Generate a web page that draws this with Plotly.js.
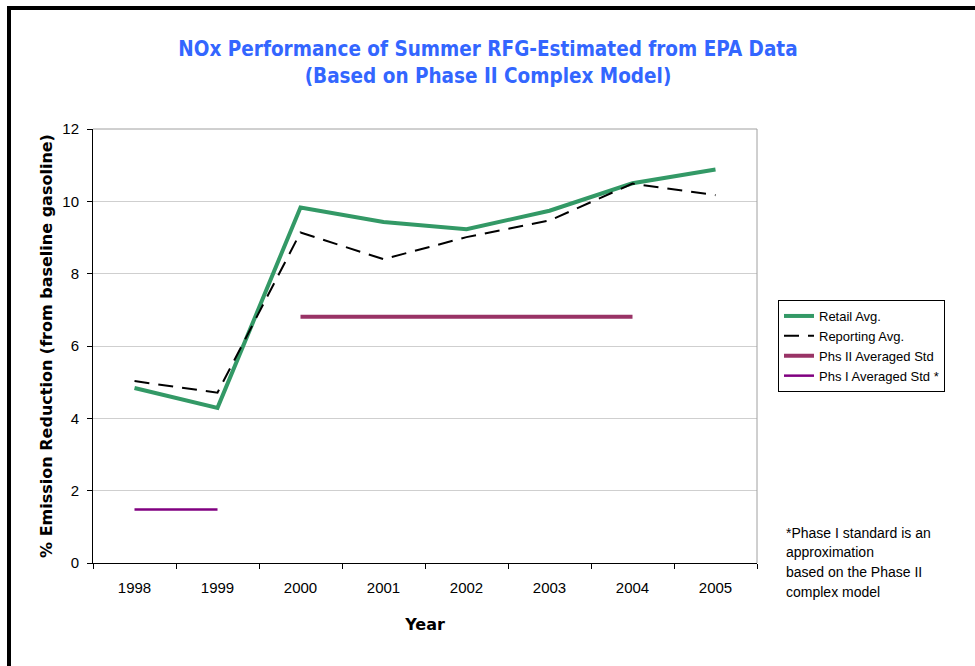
<!DOCTYPE html>
<html>
<head>
<meta charset="utf-8">
<script src="https://cdn.plot.ly/plotly-3.0.1.min.js"></script>
<style>
html,body{margin:0;padding:0;background:#fff;}
#chart{width:975px;height:666px;}
</style>
</head>
<body>
<div id="chart"></div>
<script>
var years = ["1998","1999","2000","2001","2002","2003","2004","2005"];
var retailAvg = [4.84, 4.29, 9.83, 9.43, 9.23, 9.74, 10.5, 10.88];
var reportingAvg = [5.03, 4.71, 9.14, 8.40, 9.01, 9.47, 10.49, 10.17];
var phs2Years = ["2000","2001","2002","2003","2004"];
var phs2Std = [6.81, 6.81, 6.81, 6.81, 6.81];
var phs1Years = ["1998","1999"];
var phs1Std = [1.48, 1.48];
var yTicks = [0, 2, 4, 6, 8, 10, 12];
var noteLines = ["*Phase I standard is an", "approximation", "based on the Phase II", "complex model"];

var W = 975, H = 666;
var L = 93, R = 757, T = 129, B = 563;
function px(x){ return (x - L) / (R - L); }
function py(y){ return (B - y) / (B - T); }

var traces = [
  {x: years, y: retailAvg, name: "Retail Avg.", type: "scatter", mode: "lines",
   line: {color: "#339966", width: 4}},
  {x: years, y: reportingAvg, name: "Reporting Avg.", type: "scatter", mode: "lines",
   line: {color: "#000000", width: 2, dash: "15px,9px"}},
  {x: phs2Years, y: phs2Std, name: "Phs II Averaged Std", type: "scatter", mode: "lines",
   line: {color: "#993366", width: 4}},
  {x: phs1Years, y: phs1Std, name: "Phs I Averaged Std *", type: "scatter", mode: "lines",
   line: {color: "#800080", width: 2.5}}
];

var noteY = [533, 552, 572, 592];
var annotations = noteLines.map(function(t, i){
  return {xref: "paper", yref: "paper", x: px(784), y: py(noteY[i]), xanchor: "left", yanchor: "middle",
    align: "left", showarrow: false, text: t,
    font: {family: "Liberation Sans, Arial, sans-serif", size: 14, color: "#000"}};
});

var layout = {
  width: W, height: H,
  margin: {l: L, r: W - R, t: T, b: H - B, pad: 0},
  paper_bgcolor: "#ffffff",
  plot_bgcolor: "#ffffff",
  showlegend: true,
  font: {family: "Liberation Sans, Arial, sans-serif", size: 15, color: "#000"},
  title: {
    text: "<b>NOx Performance of Summer RFG-Estimated from EPA Data<br>(Based on Phase II Complex Model)</b>",
    font: {family: "DejaVu Sans Condensed, DejaVu Sans, sans-serif", size: 20.5, color: "#3366FF"},
    x: px(488), xanchor: "center", xref: "paper",
    y: 1 - 56 / H, yanchor: "top"
  },
  xaxis: {
    type: "category",
    categoryorder: "array", categoryarray: years,
    range: [-0.5, 7.5],
    tickson: "boundaries",
    ticks: "outside", ticklen: 5, tickcolor: "#000", tickwidth: 1,
    ticklabelstandoff: 11,
    showline: true, linecolor: "#000", linewidth: 1,
    showgrid: false, zeroline: false,
    tickfont: {family: "Liberation Sans, Arial, sans-serif", size: 15, color: "#000"},
    title: {text: "<b>Year</b>", font: {family: "DejaVu Sans, Verdana, sans-serif", size: 16, color: "#000"}, standoff: 23},
    fixedrange: true
  },
  yaxis: {
    range: [0, 12],
    tickvals: yTicks,
    ticks: "outside", ticklen: 5, tickcolor: "#000", tickwidth: 1,
    ticklabelstandoff: 5,
    showline: true, linecolor: "#000", linewidth: 1,
    showgrid: true, gridcolor: "#cfcfcf", gridwidth: 1,
    zeroline: false,
    tickfont: {family: "Liberation Sans, Arial, sans-serif", size: 15, color: "#000"},
    title: {text: "<b>% Emission Reduction (from baseline gasoline)</b>", font: {family: "DejaVu Sans, Verdana, sans-serif", size: 16, color: "#000"}, standoff: 5},
    fixedrange: true
  },
  legend: {
    x: px(778), y: py(300), xanchor: "left", yanchor: "top",
    bgcolor: "#ffffff", bordercolor: "#000", borderwidth: 1,
    font: {family: "Liberation Sans, Arial, sans-serif", size: 13, color: "#000"},
    tracegroupgap: 0,
    itemwidth: 30
  },
  shapes: [
    {type: "line", xref: "paper", yref: "paper", x0: 1, x1: 1, y0: 0, y1: 1,
     line: {color: "#a0a0a0", width: 1}, layer: "above"},
    {type: "line", xref: "paper", yref: "paper", x0: 0, x1: 1, y0: 1, y1: 1,
     line: {color: "#a0a0a0", width: 1}, layer: "above"},
    {type: "line", xref: "paper", yref: "paper", x0: px(9), x1: px(9), y0: py(6), y1: py(680),
     line: {color: "#000", width: 4}},
    {type: "line", xref: "paper", yref: "paper", x0: px(7), x1: px(990), y0: py(8), y1: py(8),
     line: {color: "#000", width: 4}}
  ],
  annotations: annotations
};

Plotly.newPlot("chart", traces, layout, {displayModeBar: false, staticPlot: true});
</script>
</body>
</html>
